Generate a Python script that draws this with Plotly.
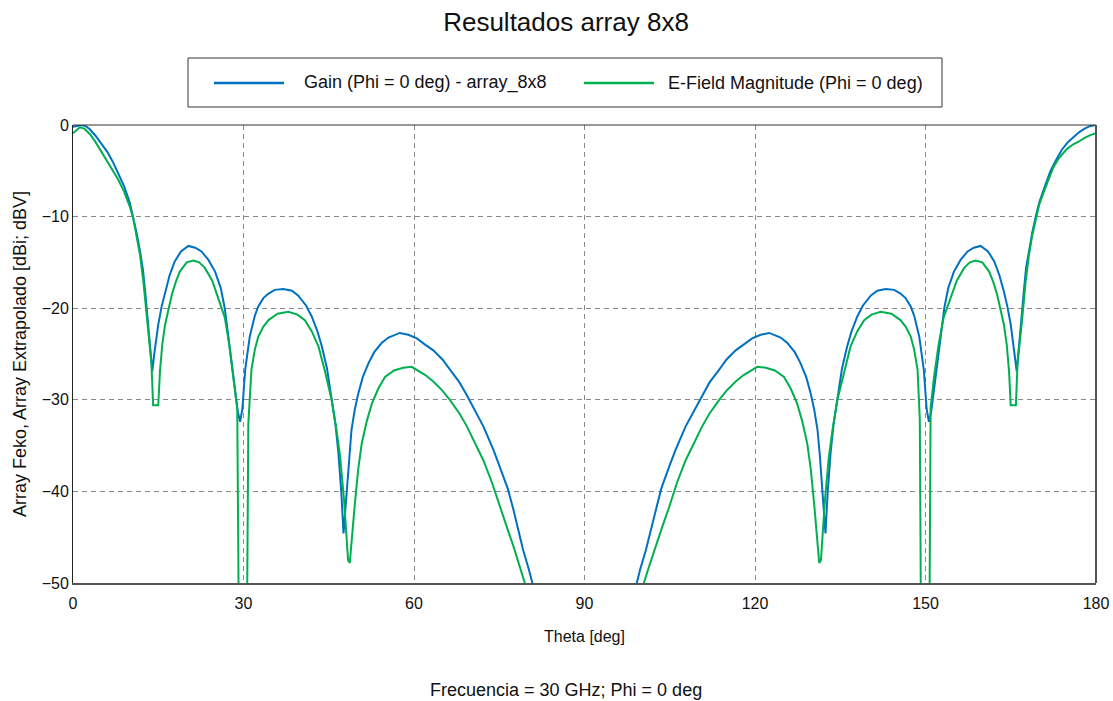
import plotly.graph_objects as go

# ---------------- data ----------------
theta_gain = [
    0, 0.8, 1.5, 2.2, 3, 4, 5, 6, 7, 8, 9, 10, 10.6, 11.2, 11.8, 12.3, 12.7, 13.25, 13.6, 13.95,
    14.3, 14.7, 15.0, 15.6, 16.2, 17.0, 17.9, 19.0, 20.3, 21.5, 22.6, 23.8, 25.0, 26.0, 26.7, 27.3,
    27.9, 28.5, 29.0, 29.4, 29.8, 30.3, 31.1, 32.0, 32.6, 33.5, 34.4, 35.5, 37.0, 38.5, 39.6, 41.0,
    42.0, 43.0, 43.8, 44.7, 45.5, 46.2, 46.7, 47.2, 47.6, 47.9, 48.2, 48.6, 49.0, 49.6, 50.2, 51.0,
    52.0, 53.0, 54.3, 55.5, 57.5, 59.0, 60.5, 62.0, 63.4, 65.0, 66.3, 68.0, 69.3, 71.0, 72.2, 74.0,
    75.1, 76.5, 77.5, 78.5, 79.2, 80.2, 81.0, 82.5, 85, 88, 90,
    92, 95, 97.5, 99.0, 99.8, 100.8, 101.5, 102.5, 103.5, 104.9, 106.0, 107.8, 109.0, 110.7, 112.0,
    113.7, 115.0, 116.6, 118.0, 119.5, 121.0, 122.5, 124.5, 125.7, 127.0, 128.0, 129.0, 129.8, 130.4,
    131.0, 131.4, 131.8, 132.1, 132.4, 132.8, 133.3, 133.8, 134.5, 135.3, 136.2, 137.0, 138.0, 139.0,
    140.4, 141.5, 143.0, 144.5, 145.6, 146.5, 147.4, 148.0, 148.9, 149.7, 150.2, 150.6, 151.0, 151.5,
    152.1, 152.7, 153.3, 154.0, 155.0, 156.2, 157.4, 158.5, 159.7, 161.0, 162.1, 163.0, 163.8, 164.4,
    165.0, 165.3, 165.7, 166.05, 166.4, 166.75, 167.3, 167.7, 168.2, 168.8, 169.4, 170, 171, 172,
    173, 174, 175, 176, 177, 178, 179, 180,
]
gain_db = [
    -0.2, -0.05, 0.0, -0.1, -0.5, -1.2, -2.0, -2.9, -4.0, -5.3, -6.7, -8.5, -10.0, -11.8, -13.8, -15.8,
    -18.2, -21.8, -24.5, -26.9, -25.0, -23.2, -21.8, -19.8, -18.2, -16.4, -14.9, -13.8, -13.2, -13.4,
    -13.8, -14.7, -16.0, -17.8, -20.0, -23.0, -26.0, -29.0, -31.3, -32.4, -31.0, -26.7, -23.1, -20.8,
    -19.8, -18.9, -18.4, -18.0, -17.9, -18.1, -18.6, -19.7, -20.9, -22.5, -24.2, -26.6, -29.7, -32.8,
    -35.8, -40.0, -44.6, -42.0, -39.5, -36.0, -33.3, -31.0, -29.3, -27.5, -26.0, -24.8, -23.8, -23.2,
    -22.7, -22.9, -23.3, -24.0, -24.6, -25.6, -26.7, -28.1, -29.5, -31.5, -32.9, -35.5, -37.3, -39.7,
    -42.0, -44.6, -46.4, -48.5, -50.5, -54, -62, -75, -90,
    -75, -62, -54, -50.5, -48.5, -46.4, -44.6, -42.0, -39.7, -37.3, -35.5, -32.9, -31.5, -29.5, -28.1,
    -26.7, -25.6, -24.6, -24.0, -23.3, -22.9, -22.7, -23.2, -23.8, -24.8, -26.0, -27.5, -29.3, -31.0,
    -33.3, -36.0, -39.5, -42.0, -44.6, -40.0, -35.8, -32.8, -29.7, -26.6, -24.2, -22.5, -20.9, -19.7,
    -18.6, -18.1, -17.9, -18.0, -18.4, -18.9, -19.8, -20.8, -23.1, -26.7, -31.0, -32.4, -31.3, -29.0,
    -26.0, -23.0, -20.0, -17.8, -16.0, -14.7, -13.8, -13.4, -13.2, -13.8, -14.9, -16.4, -18.2, -19.8,
    -21.8, -23.2, -25.0, -26.9, -24.5, -21.8, -18.2, -15.6, -13.6, -11.7, -10.0, -8.5, -6.7, -5.0,
    -3.8, -2.7, -1.9, -1.3, -0.8, -0.4, -0.1, 0.0,
]

theta_efield = [
    0, 0.5, 1.2, 2.0, 3.0, 4.0, 5.0, 6.0, 7.0, 8.0, 9.0, 10.0, 10.6, 11.2, 11.8, 12.4, 12.96, 13.4,
    13.8, 14.1, 15.0, 15.3, 15.7, 16.2, 16.8, 17.4, 18.1, 18.8, 20.0, 21.2, 22.2, 23.2, 24.5, 25.6,
    26.7, 27.5, 28.2, 28.9, 29.3, 30.5, 30.85, 31.4, 32.0, 32.6, 33.5, 34.4, 36.0, 37.9, 39.5, 40.8,
    42.0, 43.2, 44.3, 45.5, 46.3, 47.0, 47.7, 48.4, 48.7, 49.1, 49.6, 50.2, 50.8, 51.7, 52.6, 53.7,
    54.9, 56.5, 58.1, 59.6, 61.0, 62.0, 63.4, 65.0, 66.3, 68.0, 69.3, 71.0, 72.2, 73.7, 75.1, 76.5,
    77.5, 78.7, 79.7, 81.0, 84, 87, 90,
    93, 96, 99.0, 100.3, 101.3, 102.5, 103.5, 104.9, 106.3, 107.8, 109.0, 110.7, 112.0, 113.7, 115.0,
    116.6, 118.0, 119.0, 120.4, 121.9, 123.5, 125.1, 126.3, 127.4, 128.3, 129.2, 129.8, 130.4, 130.9,
    131.3, 131.6, 132.3, 133.0, 133.7, 134.5, 135.7, 136.8, 138.0, 139.2, 140.5, 142.1, 144.0, 145.6,
    146.5, 147.4, 148.0, 148.6, 149.0, 149.3, 150.6, 150.9, 151.5, 152.3, 153.2, 154.4, 155.5, 156.8,
    157.8, 158.8, 160.0, 161.2, 161.9, 162.6, 163.2, 163.8, 164.3, 164.7, 165.0, 165.9, 166.2, 166.6,
    167.04, 167.6, 168.2, 168.8, 169.4, 170.0, 170.7, 171.5, 172.5, 173.5, 174.9, 176.0, 177.0, 178.0,
    179.0, 180,
]
efield_db = [
    -0.9, -0.6, -0.25, -0.4, -1.0, -1.9, -2.9, -4.0, -4.9, -6.0, -7.3, -8.9, -10.2, -12.0, -14.2,
    -17.2, -21.0, -23.2, -26.0, -30.6, -30.6, -26.9, -24.0, -21.8, -20.0, -18.5, -17.1, -16.0, -15.0,
    -14.8, -15.0, -15.6, -17.0, -18.9, -21.0, -24.0, -27.5, -31.0, -65, -65, -32.6, -26.7, -24.5,
    -23.1, -22.0, -21.3, -20.6, -20.4, -20.7, -21.3, -22.5, -24.2, -26.8, -30.0, -33.0, -36.2, -41.0,
    -47.5, -47.8, -44.5, -41.3, -37.5, -34.8, -32.3, -30.4, -28.8, -27.5, -26.8, -26.5, -26.4, -26.9,
    -27.3, -28.0, -29.0, -30.0, -31.5, -32.9, -35.0, -36.6, -39.0, -41.7, -44.2, -46.0, -48.3, -50.3,
    -53, -60, -72, -90,
    -72, -60, -53, -50.3, -48.3, -46.0, -44.2, -41.7, -39.0, -36.6, -35.0, -32.9, -31.5, -30.0, -29.0,
    -28.0, -27.3, -26.9, -26.4, -26.5, -26.8, -27.5, -28.8, -30.4, -32.3, -34.8, -37.5, -41.3, -44.5,
    -47.8, -47.5, -41.0, -36.2, -33.0, -30.0, -26.8, -24.2, -22.5, -21.3, -20.7, -20.4, -20.6, -21.3,
    -22.0, -23.1, -24.5, -26.7, -32.2, -65, -65, -30.9, -27.5, -24.0, -21.0, -18.9, -17.0, -15.6,
    -15.0, -14.8, -15.0, -16.0, -17.1, -18.5, -20.0, -21.8, -24.0, -26.9, -30.6, -30.6, -26.0, -23.2,
    -21.0, -17.2, -14.2, -12.0, -10.2, -8.7, -7.5, -6.2, -4.6, -3.6, -2.6, -2.1, -1.8, -1.4,
    -1.1, -0.9,
]
assert len(theta_gain) == len(gain_db)
assert len(theta_efield) == len(efield_db)

series_names = ["Gain (Phi = 0 deg) - array_8x8", "E-Field Magnitude (Phi = 0 deg)"]
series_colors = ["#0070C0", "#00B050"]
x_ticks = [0, 30, 60, 90, 120, 150, 180]
y_ticks = [-50, -40, -30, -20, -10, 0]

title_text = "Resultados array 8x8"
x_title = "Theta [deg]"
y_title = "Array Feko, Array Extrapolado [dBi; dBV]"
footnote = "Frecuencia = 30 GHz; Phi = 0 deg"

FONT = "Liberation Sans, Arial, sans-serif"
W, H = 1113, 701
L, R, T, B = 73, 17, 125, 118
PW, PH = W - L - R, H - T - B


def px_x(px):
    return (px - L) / PW


def px_y(py):
    return (H - B - py) / PH


fig = go.Figure()
fig.add_trace(go.Scatter(x=theta_gain, y=gain_db, mode="lines", name=series_names[0],
                         line=dict(color=series_colors[0], width=2), showlegend=False))
fig.add_trace(go.Scatter(x=theta_efield, y=efield_db, mode="lines", name=series_names[1],
                         line=dict(color=series_colors[1], width=2), showlegend=False))

shapes = [
    # top and right frame
    dict(type="line", xref="paper", yref="paper", x0=0, x1=1, y0=1, y1=1,
         line=dict(color="#333333", width=1)),
    dict(type="line", xref="paper", yref="paper", x0=1, x1=1, y0=0, y1=1,
         line=dict(color="#555555", width=2)),
    # legend box
    dict(type="rect", xref="paper", yref="paper", x0=px_x(188), x1=px_x(942),
         y0=px_y(107), y1=px_y(58), line=dict(color="#333333", width=1), fillcolor="white"),
    dict(type="line", xref="paper", yref="paper", x0=px_x(214), x1=px_x(284),
         y0=px_y(83), y1=px_y(83), line=dict(color=series_colors[0], width=2.5)),
    dict(type="line", xref="paper", yref="paper", x0=px_x(584), x1=px_x(654),
         y0=px_y(83), y1=px_y(83), line=dict(color=series_colors[1], width=2.5)),
]

annotations = [
    dict(text=series_names[0], xref="paper", yref="paper", x=px_x(302), y=px_y(83),
         xanchor="left", yanchor="middle", showarrow=False,
         font=dict(family=FONT, size=18, color="#111111")),
    dict(text=series_names[1], xref="paper", yref="paper", x=px_x(666), y=px_y(83),
         xanchor="left", yanchor="middle", showarrow=False,
         font=dict(family=FONT, size=18, color="#111111")),
    dict(text=footnote, xref="paper", yref="paper", x=px_x(566), y=px_y(690),
         xanchor="center", yanchor="middle", showarrow=False,
         font=dict(family=FONT, size=18, color="#111111")),
]

fig.update_layout(
    width=W, height=H,
    margin=dict(l=L, r=R, t=T, b=B, pad=0, autoexpand=False),
    paper_bgcolor="white", plot_bgcolor="white",
    font=dict(family=FONT, color="#111111"),
    title=dict(text=title_text, x=566 / W, xref="container", xanchor="center",
               y=1 - 22 / H, yref="container", yanchor="middle",
               font=dict(family=FONT, size=26, color="#111111")),
    shapes=shapes, annotations=annotations, showlegend=False,
)
fig.update_xaxes(
    range=[0, 180], tickvals=x_ticks, ticks="", showgrid=True, automargin=False,
    gridcolor="#8a8a8a", gridwidth=1, griddash="5px,4px", zeroline=False,
    showline=True, linecolor="#555555", linewidth=2,
    tickfont=dict(family=FONT, size=16, color="#111111"), ticklabelstandoff=5,
    title=dict(text=x_title, font=dict(family=FONT, size=16, color="#111111"), standoff=20),
)
fig.update_yaxes(
    range=[-50, 0], tickvals=y_ticks, ticks="", showgrid=True, automargin=False,
    gridcolor="#8a8a8a", gridwidth=1, griddash="5px,4px", zeroline=False,
    showline=True, linecolor="#222222", linewidth=1,
    tickfont=dict(family=FONT, size=16, color="#111111"),
    title=dict(text=y_title, font=dict(family=FONT, size=18, color="#111111"), standoff=10),
)

fig.write_html("out.html")
